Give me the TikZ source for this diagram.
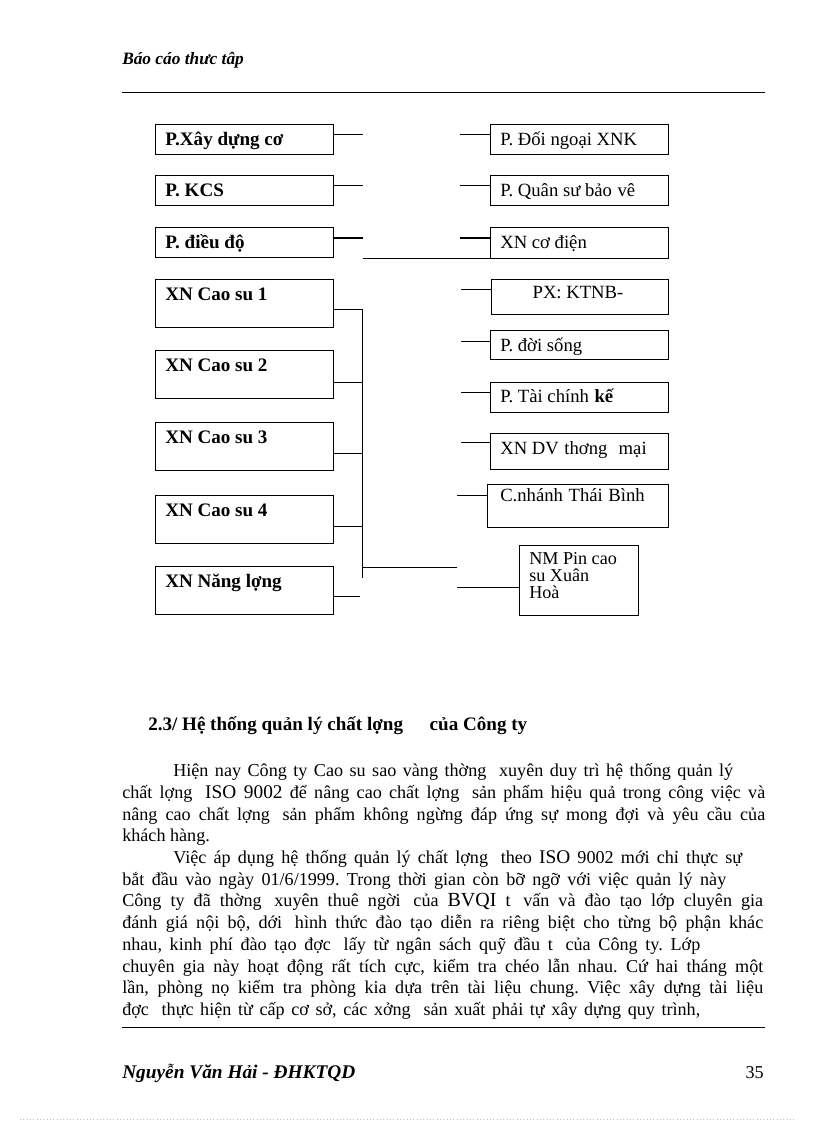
\documentclass[tikz,border=0pt]{standalone}
\usepackage{fontspec}
\setmainfont{Liberation Serif}
\frenchspacing
\newcommand\pxw[1]{\dimexpr 0.75pt*#1\relax}
\newcommand\bxx[5]{\node[box, minimum width={(#4-#2)*0.75pt}, minimum height={(#5-#3)*0.75pt}] (#1) at (#2,#3) {};}
\newcommand\gap{\hspace{0.7em}}
\newcommand\sgap{\hspace{0.3em}}
\begin{document}
\begin{tikzpicture}[x=0.75pt,y=-0.75pt,
  box/.style={draw, line width=0.75pt, inner sep=0pt, outer sep=0pt, anchor=north west},
  btxt/.style={anchor=base west, inner sep=0pt, font=\fontsize{14.3}{15}\selectfont\bfseries},
  rtxt/.style={anchor=base west, inner sep=0pt, font=\fontsize{14}{15}\selectfont},
  ln/.style={line width=0.75pt},
  body/.style={anchor=base west, inner sep=0pt, font=\fontsize{13.6}{15}\selectfont},
]
\useasboundingbox (0,0) rectangle (816,1123);

% header and footer
\node[anchor=base west, inner sep=0pt, font=\fontsize{13}{15}\selectfont\bfseries\itshape] (hd) at (122,65) {Báo cáo thưc tâp};
\draw[ln] (122,93) -- (765,93);
\draw[ln] (122,1027) -- (765,1027);
\node[anchor=base west, inner sep=0pt, font=\fontsize{14.5}{15}\selectfont\bfseries\itshape] (ft) at (122,1078) {Nguyễn Văn Hải - ĐHKTQD};
\node[anchor=base east, inner sep=0pt, font=\fontsize{13.6}{15}\selectfont] (pg) at (764,1078) {35};
\draw[gray!50, dotted, line width=0.5pt] (20,1119) -- (796,1119);

% left column boxes
\bxx{lx1}{155}{125}{333}{155}
\bxx{lx2}{155}{176}{333}{206}
\bxx{lx3}{155}{228}{333}{257}
\bxx{xn1}{155}{279}{333}{327}
\bxx{xn2}{155}{350}{333}{398}
\bxx{xn3}{155}{422}{333}{470}
\bxx{xn4}{155}{495}{333}{543}
\bxx{xn5}{155}{566}{333}{614}
\node[btxt] (tl1) at (165,146) {P.Xây dựng cơ};
\node[btxt] (tl2) at (165,197) {P. KCS};
\node[btxt] (tl3) at (165,248) {P. điều độ};
\node[btxt] (tx1) at (165,300) {XN Cao su 1};
\node[btxt] (tx2) at (165,371) {XN Cao su 2};
\node[btxt] (tx3) at (165,443) {XN Cao su 3};
\node[btxt] (tx4) at (165,516) {XN Cao su 4};
\node[btxt] (tx5) at (165,587) {XN Năng lợng};

% right column boxes
\bxx{rx1}{490}{125}{668}{155}
\bxx{rx2}{490}{176}{668}{206}
\bxx{rx3}{490}{228}{668}{258}
\bxx{px}{491}{279}{668}{314}
\bxx{ds}{490}{330}{668}{359}
\bxx{tc}{490}{382}{668}{412}
\bxx{dv}{490}{433}{668}{469}
\bxx{cn}{487}{484}{668}{527}
\bxx{nm}{519}{545}{638}{615}
\node[rtxt] (tr1) at (500,146) {P. Đối ngoại XNK};
\node[rtxt] (tr2) at (500,197) {P. Quân sư bảo\sgap vê};
\node[rtxt] (tr3) at (500,248) {XN cơ điện};
\node[rtxt, anchor=base] (tpx) at (578,298) {PX: KTNB-};
\node[rtxt] (tds) at (500,351) {P. đời sống};
\node[rtxt] (ttc) at (500,402) {P. Tài chính\sgap\textbf{kế}};
\node[rtxt] (tdv) at (500,454) {XN DV\sgap thơng\sgap\sgap mại};
\node[rtxt] (tcn) at (500,501) {C.nhánh\sgap Thái\sgap Bình};
\node[anchor=north west, inner sep=0pt, align=left, font=\fontsize{13.6}{12.75}\selectfont] (tnm) at (529,552) {NM Pin cao\\su Xuân\\Hoà};

% connectors, upper part
\draw[ln] (lx1.east |- 0,135) -- (363,135);
\draw[ln] (lx2.east |- 0,186) -- (363,186);
\draw[ln] (lx3.east |- 0,238) -- (363,238);
\coordinate (cu) at (363,258);
\draw[ln] (cu) -- (rx3.south west);
\draw[ln] (460,135) -- (rx1.west |- 0,135);
\draw[ln] (460,186) -- (rx2.west |- 0,186);
\draw[ln] (460,238) -- (rx3.west |- 0,238);

% connectors, lower part
\coordinate (vt) at (362,309);
\coordinate (vb) at (362,578);
\draw[ln] (vt) -- (vb);
\draw[ln] (xn1.east |- vt) -- (vt);
\draw[ln] (xn2.east |- 0,382) -- (362,382);
\draw[ln] (xn3.east |- 0,453) -- (362,453);
\draw[ln] (xn4.east |- 0,526) -- (362,526);
\draw[ln] (xn5.east |- 0,596) -- (360,596);
\draw[ln] (362,567) -- (457,567);
\draw[ln] (461,289) -- (px.west |- 0,289);
\draw[ln] (461,341) -- (ds.west |- 0,341);
\draw[ln] (461,392) -- (tc.west |- 0,392);
\draw[ln] (461,442) -- (dv.west |- 0,442);
\draw[ln] (457,495) -- (cn.west |- 0,495);
\draw[ln] (457,587) -- (nm.west |- 0,587);

% text section
\node[anchor=base west, inner sep=0pt, font=\fontsize{14.3}{15}\selectfont\bfseries] (h23) at (148,730)
  {2.3/ Hệ thống quản lý chất lợng\gap\gap của Công ty};
\node[body] (b1) at (173,776) {\makebox[\pxw{560}][s]{Hiện nay Công ty Cao su sao vàng thờng\gap xuyên duy trì hệ thống quản lý}};
\node[body] (b2) at (122,798) {\makebox[\pxw{643}][s]{chất lợng\gap {\fontsize{14.5}{15}\selectfont ISO 9002} để nâng cao chất lợng\gap sản phẩm hiệu quả trong công việc và}};
\node[body] (b3) at (122,820) {\makebox[\pxw{643}][s]{nâng cao chất lợng\gap sản phẩm không ngừng đáp ứng sự mong đợi và yêu cầu của}};
\node[body] (b4) at (122,841) {khách hàng.};
\node[body] (b5) at (173,863) {\makebox[\pxw{569}][s]{Việc áp dụng hệ thống quản lý chất lợng\gap theo {\fontsize{14.5}{15}\selectfont ISO} 9002 mới chỉ thực sự}};
\node[body] (b6) at (122,885) {\makebox[\pxw{604}][s]{bắt đầu vào ngày 01/6/1999. Trong thời gian còn bỡ ngỡ với việc quản lý này}};
\node[body] (b7) at (122,906) {\makebox[\pxw{641}][s]{Công ty đã thờng\gap xuyên thuê ngời\gap của {\fontsize{15}{15}\selectfont BVQI} t\gap vấn và đào tạo lớp cluyên gia}};
\node[body] (b8) at (122,928) {\makebox[\pxw{641}][s]{đánh giá nội bộ, dới\gap hình thức đào tạo diễn ra riêng biệt cho từng bộ phận khác}};
\node[body] (b9) at (122,950) {\makebox[\pxw{578}][s]{nhau, kinh phí đào tạo đợc\gap lấy từ ngân sách quỹ đầu t\gap của Công ty. Lớp}};
\node[body] (b10) at (122,972) {\makebox[\pxw{641}][s]{chuyên gia này hoạt động rất tích cực, kiểm tra chéo lẫn nhau. Cứ hai tháng một}};
\node[body] (b11) at (122,993) {\makebox[\pxw{641}][s]{lần, phòng nọ kiểm tra phòng kia dựa trên tài liệu chung. Việc xây dựng tài liệu}};
\node[body] (b12) at (122,1015) {\makebox[\pxw{578}][s]{đợc\gap thực hiện từ cấp cơ sở, các xởng\gap sản xuất phải tự xây dựng quy trình,}};
\end{tikzpicture}
\end{document}
